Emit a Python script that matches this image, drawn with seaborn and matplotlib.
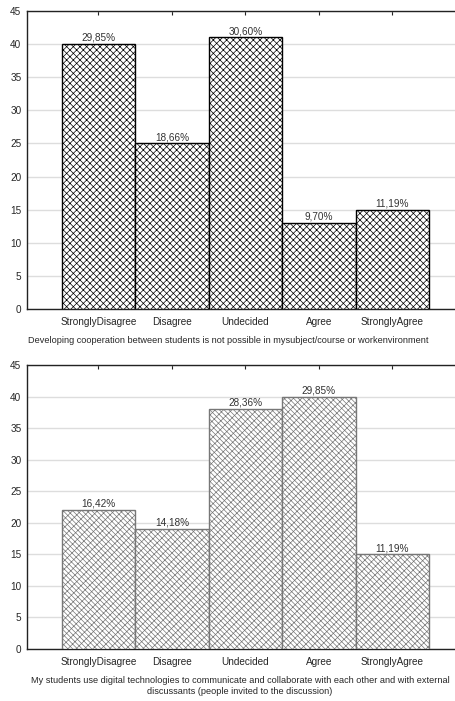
import numpy as np
import pandas as pd
import matplotlib
matplotlib.use('Agg')
import matplotlib.pyplot as plt
import seaborn as sns

categories = ['StronglyDisagree', 'Disagree', 'Undecided', 'Agree', 'StronglyAgree']
counts_top = [40, 25, 41, 13, 15]
labels_top = ['29,85%', '18,66%', '30,60%', '9,70%', '11,19%']
counts_bottom = [22, 19, 38, 40, 15]
labels_bottom = ['16,42%', '14,18%', '28,36%', '29,85%', '11,19%']
yticks = [0, 5, 10, 15, 20, 25, 30, 35, 40, 45]

title_top = 'Developing cooperation between students is not possible in mysubject/course or workenvironment'
title_bottom = ('My students use digital technologies to communicate and collaborate with each other and with external\n'
                'discussants (people invited to the discussion)')

sns.set_style('white')
plt.rcParams['font.family'] = ['Liberation Sans', 'DejaVu Sans']
plt.rcParams['hatch.linewidth'] = 0.5

fig = plt.figure(figsize=(4.55, 7.01), dpi=100)
ax1 = fig.add_axes([27 / 455, 1 - 309 / 701, 1 - 27 / 455, 298 / 701])
ax2 = fig.add_axes([27 / 455, 1 - 649 / 701, 1 - 27 / 455, 284 / 701])

fs = 7.2


def draw(ax, counts, labels, title, hatch, color, title_x, height_px):
    df = pd.DataFrame({'cat': categories, 'n': counts})
    sns.barplot(data=df, x='cat', y='n', order=categories, width=1.0,
                color='white', edgecolor=color, linewidth=1.0, ax=ax, zorder=3)
    for p in ax.patches:
        p.set_hatch(hatch)
        p.set_facecolor('white')
        p.set_edgecolor(color)
    for i, (v, lab) in enumerate(zip(counts, labels)):
        ax.text(i, v + 0.2, lab, ha='center', va='bottom', fontsize=fs, color='#333333')
    ax.set_xlim(-0.97, 4.85)
    ax.set_ylim(0, 45)
    ax.set_yticks(yticks)
    ax.set_yticklabels([str(t) for t in yticks], fontsize=fs)
    ax.yaxis.grid(True, color='#dddddd', linewidth=1.0, zorder=0)
    ax.set_axisbelow(True)
    ax.tick_params(axis='y', length=0, pad=4)
    ax.tick_params(axis='x', length=0, labelsize=fs, pad=6)
    ax.set_xlabel(title, fontsize=6.6, linespacing=1.35)
    ax.xaxis.set_label_coords((title_x - 27) / 428, -27 / height_px, transform=ax.transAxes)
    ax.xaxis.label.set_va('top')
    ax.set_ylabel('')
    for s in ['left', 'top', 'bottom']:
        ax.spines[s].set_visible(True)
        ax.spines[s].set_color('#222222')
        ax.spines[s].set_linewidth(1.0)
    ax.spines['right'].set_visible(False)
    top = ax.secondary_xaxis('top')
    top.set_xticks(range(len(categories)))
    top.set_xticklabels([])
    top.tick_params(direction='in', length=3, color='#222222')
    top.spines['top'].set_visible(False)


draw(ax1, counts_top, labels_top, title_top, 'xxxxx', 'black', 228, 298)
draw(ax2, counts_bottom, labels_bottom, title_bottom, '\\\\\\\\\\\\\\////', '#777777', 240, 284)

fig.savefig('out.png', dpi=100)
